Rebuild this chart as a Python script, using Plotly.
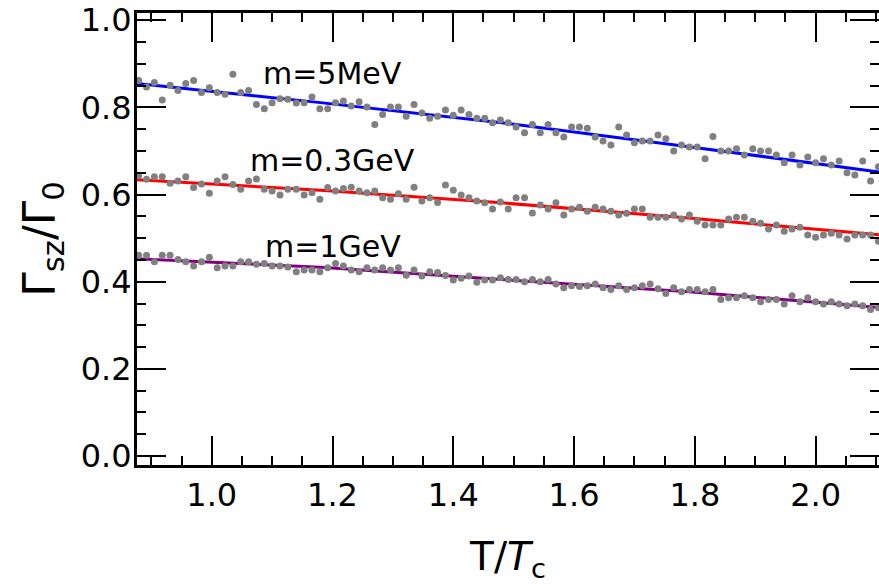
import plotly.graph_objects as go

# Temperature grid T/Tc
T = [0.879, 0.892, 0.905, 0.918, 0.931, 0.944, 0.957, 0.970, 0.983, 0.996,
     1.009, 1.022, 1.035, 1.048, 1.061, 1.074, 1.087, 1.100, 1.113, 1.126,
     1.140, 1.153, 1.166, 1.179, 1.192, 1.205, 1.218, 1.231, 1.244, 1.257,
     1.270, 1.283, 1.296, 1.309, 1.322, 1.335, 1.348, 1.361, 1.374, 1.387,
     1.400, 1.413, 1.426, 1.439, 1.452, 1.465, 1.478, 1.491, 1.504, 1.518,
     1.531, 1.544, 1.557, 1.570, 1.583, 1.596, 1.609, 1.622, 1.635, 1.648,
     1.661, 1.674, 1.687, 1.700, 1.713, 1.726, 1.739, 1.752, 1.765, 1.778,
     1.791, 1.804, 1.817, 1.830, 1.843, 1.856, 1.869, 1.882, 1.896, 1.909,
     1.922, 1.935, 1.948, 1.961, 1.974, 1.987, 2.000, 2.013, 2.026, 2.039,
     2.052, 2.065, 2.078, 2.091, 2.104]

m5MeV = [0.862, 0.847, 0.857, 0.817, 0.851, 0.839, 0.855, 0.862, 0.834, 0.845,
         0.834, 0.830, 0.876, 0.834, 0.839, 0.807, 0.797, 0.811, 0.820, 0.819,
         0.810, 0.811, 0.824, 0.797, 0.797, 0.811, 0.815, 0.803, 0.813, 0.801,
         0.761, 0.784, 0.801, 0.801, 0.780, 0.807, 0.787, 0.775, 0.780, 0.794,
         0.782, 0.794, 0.784, 0.775, 0.775, 0.765, 0.771, 0.765, 0.755, 0.742,
         0.761, 0.742, 0.761, 0.742, 0.732, 0.755, 0.755, 0.752, 0.732, 0.723,
         0.714, 0.755, 0.737, 0.719, 0.723, 0.723, 0.737, 0.728, 0.700, 0.714,
         0.709, 0.709, 0.682, 0.733, 0.700, 0.700, 0.705, 0.691, 0.705, 0.700,
         0.700, 0.691, 0.673, 0.691, 0.668, 0.686, 0.673, 0.682, 0.668, 0.677,
         0.650, 0.645, 0.677, 0.631, 0.664]

m03GeV = [0.643, 0.635, 0.641, 0.641, 0.626, 0.631, 0.641, 0.616, 0.624, 0.603,
          0.631, 0.641, 0.623, 0.612, 0.631, 0.636, 0.612, 0.608, 0.599, 0.612,
          0.612, 0.599, 0.604, 0.589, 0.616, 0.608, 0.614, 0.617, 0.608, 0.604,
          0.608, 0.593, 0.589, 0.602, 0.589, 0.617, 0.585, 0.593, 0.582, 0.622,
          0.610, 0.599, 0.593, 0.585, 0.581, 0.567, 0.583, 0.567, 0.593, 0.593,
          0.558, 0.576, 0.567, 0.581, 0.553, 0.567, 0.571, 0.562, 0.571, 0.567,
          0.562, 0.553, 0.557, 0.567, 0.567, 0.548, 0.548, 0.548, 0.553, 0.544,
          0.553, 0.539, 0.530, 0.530, 0.530, 0.544, 0.548, 0.548, 0.539, 0.534,
          0.521, 0.530, 0.516, 0.521, 0.525, 0.507, 0.502, 0.507, 0.511, 0.507,
          0.498, 0.507, 0.507, 0.507, 0.493]

m1GeV = [0.461, 0.461, 0.446, 0.461, 0.461, 0.451, 0.446, 0.436, 0.446, 0.456,
         0.432, 0.436, 0.436, 0.446, 0.446, 0.440, 0.442, 0.436, 0.436, 0.434,
         0.423, 0.427, 0.427, 0.423, 0.432, 0.442, 0.436, 0.427, 0.423, 0.432,
         0.427, 0.432, 0.427, 0.432, 0.415, 0.427, 0.413, 0.423, 0.421, 0.414,
         0.404, 0.408, 0.413, 0.399, 0.404, 0.404, 0.409, 0.405, 0.405, 0.400,
         0.405, 0.400, 0.405, 0.395, 0.386, 0.391, 0.389, 0.391, 0.395, 0.386,
         0.382, 0.391, 0.382, 0.386, 0.391, 0.395, 0.384, 0.373, 0.386, 0.377,
         0.382, 0.382, 0.377, 0.382, 0.359, 0.363, 0.363, 0.368, 0.363, 0.354,
         0.359, 0.359, 0.349, 0.368, 0.354, 0.363, 0.354, 0.349, 0.354, 0.349,
         0.345, 0.349, 0.345, 0.336, 0.340]

# Fitted curves
fit_T = [0.875, 1.18, 1.48, 1.79, 2.105]
fit_5MeV = [0.855, 0.811, 0.765, 0.710, 0.652]
fit_03GeV = [0.634, 0.610, 0.581, 0.546, 0.508]
fit_1GeV = [0.453, 0.433, 0.405, 0.377, 0.341]

labels = ["m=5MeV", "m=0.3GeV", "m=1GeV"]
label_x = [1.2, 1.2, 1.2]
label_y = [0.878, 0.678, 0.481]

x_ticks = [1.0, 1.2, 1.4, 1.6, 1.8, 2.0]
y_ticks = [0.0, 0.2, 0.4, 0.6, 0.8, 1.0]
X_RANGE = [0.8762, 2.105]
Y_RANGE = [-0.0206, 1.0167]

FONT = "DejaVu Sans"

fig = go.Figure()
for fy, col in [(fit_5MeV, "#0000ff"), (fit_03GeV, "#ff0000"), (fit_1GeV, "#800080")]:
    fig.add_trace(go.Scatter(x=fit_T, y=fy, mode="lines",
                             line=dict(color=col, width=3), showlegend=False,
                             hoverinfo="skip"))
for sy, yax in [(m5MeV, "y"), (m03GeV, "y"), (m1GeV, "y2")]:
    fig.add_trace(go.Scatter(x=T, y=sy, mode="markers", yaxis=yax,
                             marker=dict(color="#808080", size=7, line=dict(width=0)),
                             showlegend=False))

for txt, ax, ay in zip(labels, label_x, label_y):
    fig.add_annotation(x=ax, y=ay, xref="x", yref="y", text=txt, showarrow=False,
                       xanchor="center", yanchor="middle",
                       font=dict(family=FONT, size=30, color="black"))

tick_common = dict(
    ticks="inside", ticklen=29, tickwidth=2, tickcolor="black",
    showgrid=False, zeroline=False, tickformat=".1f",
    tickfont=dict(family=FONT, size=32, color="black"),
    minor=dict(ticks="inside", ticklen=9, tickwidth=2, tickcolor="black", dtick=0.05),
)

fig.update_layout(
    width=879, height=587,
    margin=dict(l=137, r=0, t=13, b=122, pad=0),
    paper_bgcolor="white", plot_bgcolor="white",
    xaxis=dict(range=X_RANGE, tickvals=x_ticks, showline=True, linewidth=3,
               linecolor="black", mirror="ticks", **tick_common,
               title=dict(text="T/<i>T</i><sub>c</sub>",
                          font=dict(family=FONT, size=39, color="black"),
                          standoff=30)),
    yaxis=dict(range=Y_RANGE, tickvals=y_ticks, showline=True, linewidth=3,
               linecolor="black", mirror=False, ticklabelstandoff=-4, **tick_common,
               title=dict(text="Γ<sub>sz</sub>/Γ<sub>0</sub>",
                          font=dict(family=FONT, size=44, color="black"),
                          standoff=12)),
    yaxis2=dict(range=Y_RANGE, tickvals=y_ticks, overlaying="y", side="right",
                anchor="x", showline=False, showticklabels=False, **tick_common),
)
fig.update_xaxes(minor=dict(tick0=0.9))
fig.update_yaxes(minor=dict(tick0=0.0))

fig.write_html("out.html", config={"displayModeBar": False},
               post_script="document.body.style.margin='0px';"
                           "document.body.style.overflow='hidden';")
